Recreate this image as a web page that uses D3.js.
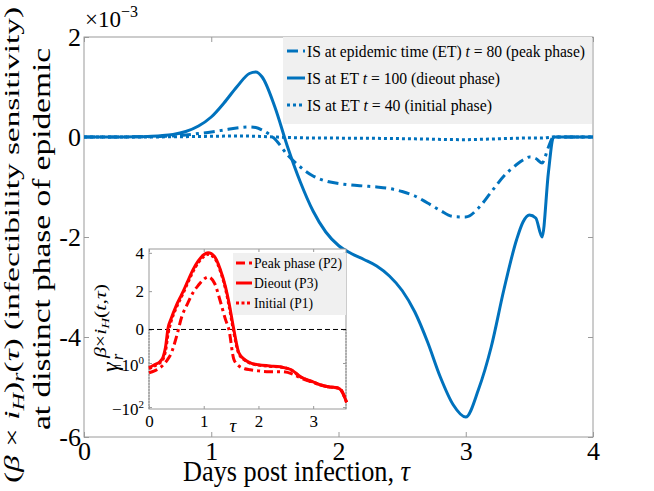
<!DOCTYPE html>
<html><head><meta charset="utf-8">
<script src="https://cdn.jsdelivr.net/npm/d3@7"></script>
<style>
body{margin:0;background:#fff}
text{font-family:"Liberation Serif","Times New Roman",serif;fill:#000}
</style>
</head><body>
<svg id="c" width="654" height="491"></svg>
<script>
// ---------- DATA (main chart, values in units of 1e-3) ----------
const tauMain = [0,0.2,0.4,0.5,0.6,0.7,0.8,0.9,1.0,1.1,1.2,1.3,1.35,1.4,1.5,1.6,1.7,1.8,1.9,2.0,2.1,2.2,2.3,2.4,2.5,2.6,2.7,2.8,2.9,3.0,3.1,3.2,3.3,3.4,3.45,3.5,3.55,3.6,3.65,3.69,3.8,4.0];
const isPeak80 = [0,0,0.003,0.006,0.012,0.022,0.04,0.07,0.1,0.14,0.18,0.2,0.19,0.14,-0.04,-0.36,-0.6,-0.78,-0.88,-0.93,-0.96,-0.98,-1.0,-1.03,-1.09,-1.18,-1.32,-1.47,-1.59,-1.6,-1.42,-1.1,-0.78,-0.55,-0.46,-0.4,-0.43,-0.52,-0.2,0,0,0];
const isDieout100 = [0,0,0.005,0.012,0.025,0.05,0.11,0.22,0.4,0.68,1.0,1.27,1.3,1.2,0.6,-0.2,-0.9,-1.48,-1.9,-2.17,-2.33,-2.45,-2.58,-2.78,-3.07,-3.5,-4.1,-4.8,-5.35,-5.6,-5.05,-4.2,-3.05,-2.05,-1.7,-1.56,-1.62,-2.0,-0.7,0,0,0];
const isInitial40 = [0,0,0,0.001,0.002,0.004,0.007,0.01,0.014,0.018,0.02,0.018,0.015,0.01,0,-0.01,-0.015,-0.02,-0.02,-0.022,-0.024,-0.025,-0.027,-0.03,-0.033,-0.037,-0.042,-0.048,-0.052,-0.053,-0.048,-0.04,-0.032,-0.025,-0.022,-0.02,-0.02,-0.02,-0.01,0,0,0];
const mainXTicks = [0,1,2,3,4];
const mainYTicks = [-6,-4,-2,0,2];
const mainYTickLabels = ["-6","-4","-2","0","2"];

// ---------- DATA (inset, values in the inset's plotted axis units) ----------
const tauInset = [0,0.1,0.2,0.26,0.3,0.35,0.4,0.5,0.6,0.7,0.8,0.9,1.0,1.08,1.2,1.3,1.4,1.46,1.55,1.64,1.75,1.85,2.0,2.2,2.4,2.6,2.77,3.0,3.14,3.3,3.45,3.52,3.61];
const gammaP2 = [-2.26,-2.16,-2.0,-1.85,-1.72,-1.52,-1.28,-0.4,0.68,1.32,1.9,2.3,2.62,2.74,2.4,1.5,0.5,0.0,-1.55,-1.9,-2.05,-2.1,-2.16,-2.2,-2.2,-2.3,-2.53,-2.76,-2.9,-3.0,-3.05,-3.2,-3.8];
const gammaP3 = [-2.0,-1.84,-1.68,-1.42,-0.95,0.1,0.53,1.26,1.84,2.47,3.1,3.58,3.9,4.0,3.8,3.16,2.2,1.42,0.0,-1.2,-1.58,-1.74,-1.84,-1.9,-1.95,-2.1,-2.47,-2.74,-2.9,-3.0,-3.05,-3.2,-3.8];
const gammaP1 = [-2.05,-1.9,-1.74,-1.52,-1.15,-0.2,0.38,1.15,1.75,2.38,3.0,3.48,3.8,3.92,3.72,3.08,2.1,1.28,-0.15,-1.25,-1.6,-1.76,-1.86,-1.92,-1.96,-2.12,-2.48,-2.75,-2.9,-3.0,-3.05,-3.2,-3.8];
const insetXTicks = [0,1,2,3];
const insetYTicks = [-4.05,-1.75,0,2,4];
const insetYTickBase = ["\u221210","\u221210","0","2","4"];
const insetYTickExp = ["2","0","","",""];

// ---------- DRAW ----------
const svg = d3.select("#c");
const BLUE = "#0072BD", RED = "#FF0000", AX = "#9a9a9a";
const dashDot = "11,5,3,5", dotted = "3,3";

const x = d3.scaleLinear().domain([0,4]).range([84,593]);
const y = d3.scaleLinear().domain([-6,2]).range([437,37]);

svg.append("rect").attr("x",84).attr("y",37).attr("width",509).attr("height",400)
  .attr("fill","#fff").attr("stroke",AX).attr("stroke-width",1);

function styleAxis(g, size){
  g.attr("font-family",null);
  g.select(".domain").remove();
  g.selectAll(".tick line").attr("stroke",AX);
  g.selectAll(".tick text").style("font-size",size+"px").attr("fill","#000")
   .style("font-family",'"Liberation Serif",serif');
}
svg.append("g").attr("transform","translate(0,437)")
  .call(d3.axisBottom(x).tickValues(mainXTicks).tickSize(-5).tickPadding(5).tickFormat(d3.format("d")))
  .call(g=>styleAxis(g,26));
svg.append("g").attr("transform","translate(0,37)")
  .call(d3.axisTop(x).tickValues(mainXTicks).tickSize(-5).tickFormat(""))
  .call(g=>styleAxis(g,26));
svg.append("g").attr("transform","translate(84,0)")
  .call(d3.axisLeft(y).tickValues(mainYTicks).tickSize(-5).tickPadding(3)
        .tickFormat((d,i)=>mainYTickLabels[i]))
  .call(g=>styleAxis(g,26));
svg.append("g").attr("transform","translate(593,0)")
  .call(d3.axisRight(y).tickValues(mainYTicks).tickSize(-5).tickFormat(""))
  .call(g=>styleAxis(g,26));

const lineMain = d3.line().x(d=>x(d[0])).y(d=>y(d[1])).curve(d3.curveMonotoneX);
const mainSeries = [
  {vals:isPeak80, dash:dashDot},
  {vals:isDieout100, dash:null},
  {vals:isInitial40, dash:dotted}
];
mainSeries.forEach(s=>{
  svg.append("path").datum(tauMain.map((t,i)=>[t,s.vals[i]]))
    .attr("d",lineMain).attr("fill","none").attr("stroke",BLUE)
    .attr("stroke-width",3).attr("stroke-dasharray",s.dash);
});

// exponent label
const ex = svg.append("text").attr("x",85).attr("y",27).style("font-size","23px");
ex.append("tspan").text("\u00d710");
ex.append("tspan").attr("dy",-10).style("font-size","16px").text("\u22123");

// main legend
svg.append("rect").attr("x",283).attr("y",37).attr("width",309).attr("height",87).attr("fill","#f0f0f0");
const legTexts = [
  [["IS at epidemic time (ET) ",0],["t",1],[" = 80 (peak phase)",0]],
  [["IS at ET ",0],["t",1],[" = 100 (dieout phase)",0]],
  [["IS at ET ",0],["t",1],[" = 40 (initial phase)",0]]
];
const legLens = [278,193,185];
const legY = [51,78,105];
mainSeries.forEach((s,i)=>{
  svg.append("line").attr("x1",287).attr("x2",305).attr("y1",legY[i]).attr("y2",legY[i])
    .attr("stroke",BLUE).attr("stroke-width",3).attr("stroke-dasharray",s.dash);
  const t = svg.append("text").attr("x",307).attr("y",legY[i]+6).style("font-size","17.5px")
    .attr("textLength",legLens[i]).attr("lengthAdjust","spacingAndGlyphs");
  legTexts[i].forEach(p=>t.append("tspan").style("font-style",p[1]?"italic":"normal").text(p[0]));
});

// x label
const xl = svg.append("text").attr("x",183).attr("y",481).style("font-size","29px")
  .attr("textLength",227).attr("lengthAdjust","spacingAndGlyphs");
xl.append("tspan").text("Days post infection, ");
xl.append("tspan").style("font-style","italic").text("\u03c4");

// y label (two lines, rotated)
const yl1 = svg.append("text").attr("transform","translate(19,245) rotate(-90)")
  .attr("text-anchor","middle").style("font-size","22px")
  .attr("textLength",476).attr("lengthAdjust","spacingAndGlyphs");
yl1.append("tspan").text("(");
yl1.append("tspan").style("font-style","italic").text("\u03b2");
yl1.append("tspan").text(" \u00d7 ");
yl1.append("tspan").style("font-style","italic").text("i");
yl1.append("tspan").style("font-style","italic").style("font-size","16px").attr("dy",5).text("H");
yl1.append("tspan").attr("dy",-5).text(")");
yl1.append("tspan").style("font-style","italic").style("font-size","16px").attr("dy",5).text("r");
yl1.append("tspan").attr("dy",-5).text("(");
yl1.append("tspan").style("font-style","italic").text("\u03c4");
yl1.append("tspan").text(") (infectibility sensitivity)");
svg.append("text").attr("transform","translate(50,239) rotate(-90)")
  .attr("text-anchor","middle").style("font-size","25px")
  .attr("textLength",382).attr("lengthAdjust","spacingAndGlyphs")
  .text("at distinct phase of epidemic");

// ---------- INSET ----------
const xi = d3.scaleLinear().domain([0,3.6]).range([149,346]);
const yi = d3.scaleLinear().domain([-4.15,4.2]).range([409,249]);
svg.append("rect").attr("x",149).attr("y",249).attr("width",197).attr("height",160)
  .attr("fill","#fff").attr("stroke",AX).attr("stroke-width",1);
[149,346].forEach(px=>svg.append("line").attr("x1",px).attr("x2",px)
  .attr("y1",yi(0)).attr("y2",409).attr("stroke","#555").attr("stroke-width",1).attr("stroke-dasharray","1,2"));

svg.append("g").attr("transform","translate(0,409)")
  .call(d3.axisBottom(xi).tickValues(insetXTicks).tickSize(-3).tickPadding(6).tickFormat(d3.format("d")))
  .call(g=>styleAxis(g,17));
svg.append("g").attr("transform","translate(0,249)")
  .call(d3.axisTop(xi).tickValues(insetXTicks).tickSize(-3).tickFormat(""))
  .call(g=>styleAxis(g,17));
const yAxI = svg.append("g").attr("transform","translate(149,0)")
  .call(d3.axisLeft(yi).tickValues(insetYTicks).tickSize(-3).tickPadding(5).tickFormat(""))
  .call(g=>styleAxis(g,17));
yAxI.selectAll(".tick text").each(function(d,i){
  const t = d3.select(this);
  t.attr("dy", insetYTickExp[i] ? "0.45em" : "0.32em");
  t.append("tspan").text(insetYTickBase[i]);
  if(insetYTickExp[i]) t.append("tspan").attr("dy",-7).style("font-size","11px").text(insetYTickExp[i]);
});
svg.append("g").attr("transform","translate(346,0)")
  .call(d3.axisRight(yi).tickValues(insetYTicks).tickSize(-3).tickFormat(""))
  .call(g=>styleAxis(g,17));

svg.append("line").attr("x1",149).attr("x2",346).attr("y1",yi(0)).attr("y2",yi(0))
  .attr("stroke","#000").attr("stroke-width",1).attr("stroke-dasharray","5,3");

const lineIn = d3.line().x(d=>xi(d[0])).y(d=>yi(d[1])).curve(d3.curveMonotoneX);
const insetSeries = [
  {vals:gammaP2, dash:"9,4,3,4", label:"Peak phase (P2)", len:88},
  {vals:gammaP3, dash:null, label:"Dieout (P3)", len:64},
  {vals:gammaP1, dash:"3,2.5", label:"Initial (P1)", len:59}
];
insetSeries.forEach(s=>{
  svg.append("path").datum(tauInset.map((t,i)=>[t,s.vals[i]]))
    .attr("d",lineIn).attr("fill","none").attr("stroke",RED)
    .attr("stroke-width",3).attr("stroke-dasharray",s.dash);
});

// inset legend
svg.append("rect").attr("x",233).attr("y",253).attr("width",113).attr("height",62).attr("fill","#f0f0f0");
const ilY = [263,283,303];
insetSeries.forEach((s,i)=>{
  svg.append("line").attr("x1",236).attr("x2",252).attr("y1",ilY[i]).attr("y2",ilY[i])
    .attr("stroke",RED).attr("stroke-width",3).attr("stroke-dasharray",s.dash);
  svg.append("text").attr("x",254).attr("y",ilY[i]+5).style("font-size","15px")
    .attr("textLength",s.len).attr("lengthAdjust","spacingAndGlyphs").text(s.label);
});

// inset x label
svg.append("text").attr("x",233).attr("y",432).attr("text-anchor","middle")
  .style("font-size","19px").style("font-style","italic").text("\u03c4");

// inset y label: gamma_r^{beta x i_H(t,tau)}
const gl = svg.append("g").attr("transform","translate(118,372) rotate(-90)");
gl.append("text").attr("x",0).attr("y",0).style("font-size","24px").style("font-style","italic").text("\u03b3");
gl.append("text").attr("x",12).attr("y",5).style("font-size","16px").style("font-style","italic").text("r");
const sup = gl.append("text").attr("x",14).attr("y",-12).style("font-size","16px").style("font-style","italic")
  .attr("textLength",74).attr("lengthAdjust","spacingAndGlyphs");
sup.append("tspan").text("\u03b2");
sup.append("tspan").style("font-style","normal").text("\u00d7");
sup.append("tspan").text("i");
sup.append("tspan").attr("dy",3).style("font-size","11px").text("H");
sup.append("tspan").attr("dy",-3).style("font-style","normal").text("(");
sup.append("tspan").text("t");
sup.append("tspan").style("font-style","normal").text(",");
sup.append("tspan").text("\u03c4");
sup.append("tspan").style("font-style","normal").text(")");
</script>
</body></html>
